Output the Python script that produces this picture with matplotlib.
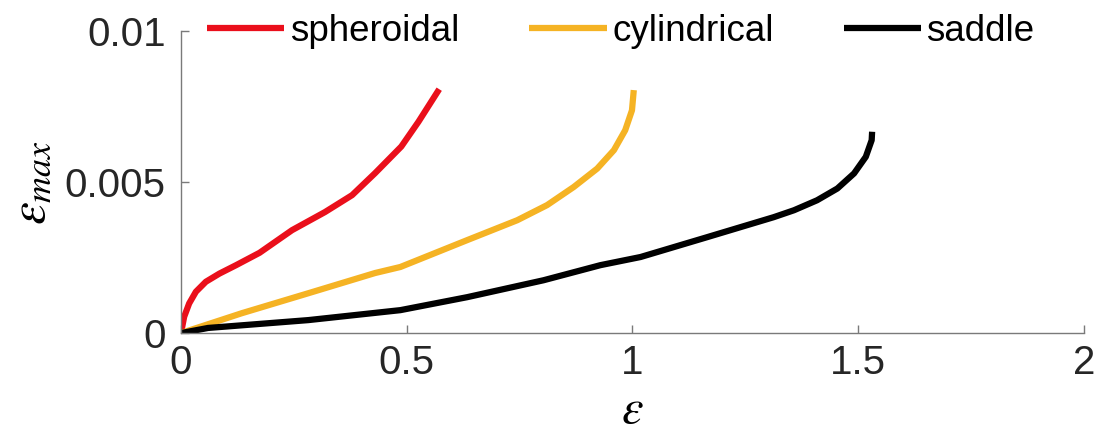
import matplotlib
matplotlib.use('Agg')
from matplotlib import pyplot as plt

# values
spheroidal_x = [0, 0.007, 0.018, 0.033, 0.055, 0.085, 0.122, 0.174, 0.246, 0.319, 0.379, 0.430, 0.488, 0.526, 0.572]
spheroidal_y = [0, 0.00054, 0.00098, 0.00137, 0.00170, 0.00197, 0.00225, 0.00266, 0.00341, 0.00401, 0.00457, 0.00530, 0.00618, 0.00700, 0.00808]

cylindrical_x = [0, 0.135, 0.282, 0.430, 0.486, 0.634, 0.745, 0.811, 0.870, 0.922, 0.959, 0.984, 0.999, 1.003]
cylindrical_y = [0, 0.00066, 0.00132, 0.00199, 0.00219, 0.00308, 0.00374, 0.00424, 0.00484, 0.00545, 0.00606, 0.00672, 0.00738, 0.00805]

saddle_x = [0, 0.060, 0.282, 0.486, 0.634, 0.803, 0.929, 1.018, 1.166, 1.313, 1.358, 1.409, 1.454, 1.491, 1.517, 1.530, 1.531]
saddle_y = [0, 0.00017, 0.00043, 0.00076, 0.00119, 0.00175, 0.00225, 0.00252, 0.00318, 0.00384, 0.00407, 0.00440, 0.00479, 0.00529, 0.00584, 0.00639, 0.00667]

x_ticks = [0, 0.5, 1, 1.5, 2]
x_ticklabels = ['0', '0.5', '1', '1.5', '2']
y_ticks = [0, 0.005, 0.01]
y_ticklabels = ['0', '0.005', '0.01']

plt.rcParams['font.family'] = ['Liberation Sans', 'DejaVu Sans']
plt.rcParams['mathtext.fontset'] = 'stix'

fig = plt.figure(figsize=(10.97, 4.40), dpi=100)
ax = fig.add_axes([0.165, 0.243, 0.823, 0.686])

line_kw = dict(lw=4.5, solid_capstyle='butt', solid_joinstyle='round')
ax.plot(spheroidal_x, spheroidal_y, color='#EA0F1B', label='spheroidal', **line_kw)
ax.plot(cylindrical_x, cylindrical_y, color='#F5B324', label='cylindrical', **line_kw)
ax.plot(saddle_x, saddle_y, color='black', label='saddle', **line_kw)

ax.set_xlim(0, 2)
ax.set_ylim(0, 0.01)
ax.set_xticks(x_ticks)
ax.set_xticklabels(x_ticklabels)
ax.set_yticks(y_ticks)
ax.set_yticklabels(y_ticklabels)

for side in ['top', 'right']:
    ax.spines[side].set_visible(False)
for side in ['left', 'bottom']:
    ax.spines[side].set_color('#7a7a7a')
    ax.spines[side].set_linewidth(1.0)

ax.tick_params(axis='both', direction='in', length=6, width=1.0, color='#7a7a7a',
               labelsize=29, labelcolor='#262626')
ax.tick_params(axis='x', pad=8)
ax.tick_params(axis='y', pad=11)

ax.set_xlabel(r'$\varepsilon$', fontsize=35, labelpad=4)
ax.set_ylabel(r'$\varepsilon_{max}$', fontsize=37, labelpad=6)

ax.legend(ncol=3, loc='center left', bbox_to_anchor=(0.029, 1.0), frameon=False,
          fontsize=26.5, handlelength=2.1, handletextpad=0.15, columnspacing=1.9,
          borderpad=0, borderaxespad=0)

fig.savefig('out.png', dpi=100)
